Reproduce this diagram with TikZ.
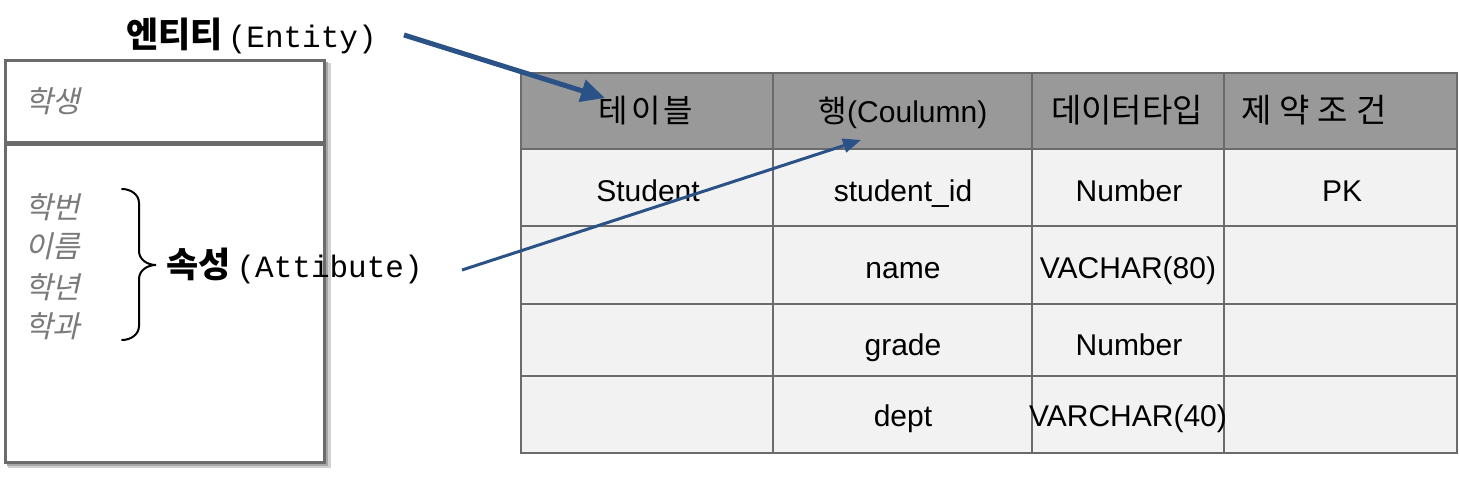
\documentclass[tikz,border=0pt]{standalone}
\usepackage{fontspec}
\setmainfont{Liberation Sans}
\setmonofont{Liberation Mono}
\newfontfamily\kr{Noto Sans CJK KR}
\newfontfamily\krit{Noto Sans CJK KR}[FakeSlant=0.22]
\usetikzlibrary{arrows.meta}
\definecolor{arrowblue}{HTML}{2B5287}
\definecolor{headgray}{HTML}{999999}
\definecolor{bodygray}{HTML}{F2F2F2}
\definecolor{gridgray}{HTML}{6B6B6B}
\definecolor{attrgray}{HTML}{7A7A7A}
\tikzset{
  grid/.style={draw=gridgray, line width=2pt},
  ebox/.style={draw=gridgray, line width=3pt, fill=white},
  celltext/.style={anchor=base, inner sep=0pt, font=\fontsize{30}{36}\selectfont},
  attr/.style={anchor=west, inner sep=0pt, text=attrgray, font=\fontsize{30}{36}\krit},
  lbl/.style={anchor=base west, inner sep=0pt},
  bigarrow/.style={draw=arrowblue, line width=5pt, -{Triangle[length=24pt,width=22pt]}},
  thinarrow/.style={draw=arrowblue, line width=3pt, -{Triangle[length=18pt,width=14pt]}},
}
\begin{document}
\begin{tikzpicture}[x=1pt,y=-1pt]
\useasboundingbox (0,0) rectangle (1459,477);
\fill[white] (0,0) rectangle (1459,477);

% entity box with shadow
\fill[black!18] (8,63) rectangle (331,468);
\fill[black!35] (7,62) rectangle (328,466);
\draw[ebox] (5,144) rectangle (324,462);
\draw[ebox] (5,60) rectangle (324,142);

\node[attr] (student) at (25,101) {학생};
\node[attr] (a1) at (25,207) {학번};
\node[attr] (a2) at (25,246) {이름};
\node[attr] (a3) at (25,287) {학년};
\node[attr] (a4) at (25,326) {학과};

% brace
\draw[line width=2pt, line cap=round] (122,189) to[out=0,in=90] (139,203) -- (139,251)
   to[out=-90,in=180] (156,265) to[out=180,in=90] (139,279) -- (139,326)
   to[out=-90,in=0] (122,340);

% labels
\node[lbl] (entlbl) at (126,47) {{\fontsize{35}{40}\kr\bfseries 엔티티}\kern5pt{\fontsize{31}{36}\ttfamily (Entity)}};
\node[lbl] (attlbl) at (166,277) {{\fontsize{35}{40}\kr\bfseries 속성}\kern6pt{\fontsize{31}{36}\ttfamily (Attibute)}};

% table
\fill[headgray] (521,73) rectangle (1457,149);
\fill[bodygray] (521,149) rectangle (1457,453);
\foreach \yy in {149,226,304,376} \draw[grid] (521,\yy) -- (1457,\yy);
\foreach \xx in {773,1032,1224} \draw[grid] (\xx,73) -- (\xx,453);
\draw[grid] (521,73) rectangle (1457,453);

\node[celltext] (h1) at (646,122) {{\fontsize{32}{36}\kr 테\kern3pt 이\kern3pt 블}};
\node[celltext] (h2) at (903,122) {{\fontsize{31}{36}\kr 행}(Coulumn)};
\node[celltext] (h3) at (1127,122) {{\fontsize{33}{36}\kr 데이터타입}};
\node[celltext] (h4) at (1314,122) {{\fontsize{33}{36}\kr 제\kern8pt 약\kern8pt 조\kern8pt 건}};

\node[celltext] (r11) at (648,201) {Student};
\node[celltext] (r12) at (903,201) {student\_id};
\node[celltext] (r13) at (1129,201) {Number};
\node[celltext] (r14) at (1342,201) {PK};

\node[celltext] (r22) at (903,278) {name};
\node[celltext] (r23) at (1128,278) {VACHAR(80)};

\node[celltext] (r32) at (903,355) {grade};
\node[celltext] (r33) at (1129,355) {Number};

\node[celltext] (r42) at (903,426) {dept};
\node[celltext] (r43) at (1128,426) {VARCHAR(40)};

% arrows
\coordinate (entStart) at (404,35);
\coordinate (entEnd) at (605,98);
\coordinate (attStart) at (462,270);
\coordinate (attEnd) at (861,140);
\draw[bigarrow] (entStart) -- (entEnd);
\draw[thinarrow] (attStart) -- (attEnd);
\end{tikzpicture}
\end{document}
